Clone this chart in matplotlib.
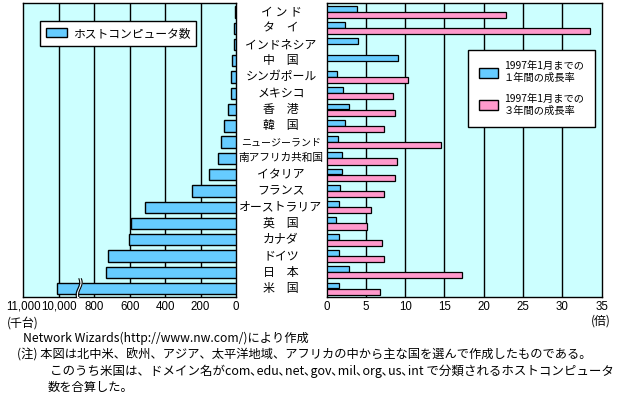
import matplotlib
matplotlib.use("Agg")
import matplotlib.pyplot as plt
import matplotlib.transforms as mtrans
from matplotlib.patches import Patch
import numpy as np

plt.rcParams['font.family'] = ['Noto Sans CJK JP', 'DejaVu Sans']

countries = ["イ ン ド", "タ　イ", "インドネシア", "中　国", "シンガポール", "メキシコ",
             "香　港", "韓　国", "ニュージーランド", "南アフリカ共和国", "イタリア",
             "フランス", "オーストラリア", "英　国", "カナダ", "ドイツ", "日　本", "米　国"]
hosts = [4, 9, 10, 21, 31, 31, 47, 66, 84, 99, 150, 246, 514, 592, 603, 722, 734, 10060]  # 千台
growth_1y = [3.9, 2.3, 4.05, 9.1, 1.3, 2.15, 2.8, 2.3, 1.5, 2.0, 2.0, 1.75, 1.65, 1.25, 1.65, 1.65, 2.8, 1.65]
growth_3y = [22.8, 33.5, None, None, 10.4, 8.4, 8.65, 7.35, 14.6, 9.0, 8.75, 7.35, 5.7, 5.2, 7.0, 7.25, 17.2, 6.85]

left_ticks = [11000, 10000, 800, 600, 400, 200, 0]
left_ticklabels = ["11,000", "10,000", "800", "600", "400", "200", "0"]
right_ticks = [0, 5, 10, 15, 20, 25, 30, 35]

BLUE = "#66CCFF"
PINK = "#FF99CC"
BG = "#CCFFFF"

def fwd(v):
    v = np.asarray(v, dtype=float)
    return np.where(v <= 800, v, 1000 + (v - 10000) / 5.0)

BREAK_AT = 885  # display position of the axis break

W, H = 624, 397
fig = plt.figure(figsize=(W / 100, H / 100), dpi=100)

def rect(x0, y0, x1, y1):
    return [x0 / W, 1 - y1 / H, (x1 - x0) / W, (y1 - y0) / H]

axL = fig.add_axes(rect(23.3, 3.3, 236, 296.7))
axR = fig.add_axes(rect(326.5, 3.3, 601.7, 296.7))

n = len(countries)
idx = np.arange(n)

for ax in (axL, axR):
    ax.set_facecolor(BG)
    ax.set_ylim(n - 0.5, -0.53)
    ax.set_yticks([])
    for s in ax.spines.values():
        s.set_color("black")
        s.set_linewidth(1.0)
    ax.tick_params(axis='x', length=0, pad=3)

# left panel
axL.set_xlim(1200, 0)
for t in left_ticks[1:-1]:
    axL.axvline(fwd(t), color="black", lw=1.0, zorder=1)
axL.barh(idx, fwd(hosts), height=0.7, color=BLUE, edgecolor="black", linewidth=1.0, zorder=3)
axL.set_xticks(fwd(left_ticks))
axL.set_xticklabels(left_ticklabels, family="Liberation Sans", fontsize=8.3)

# break mark on the US bar
yy = np.linspace(n - 1 - 0.6, n - 1 + 0.6, 30)
wig = 10 * np.sin((yy - (n - 1)) / 0.6 * np.pi * 0.8)
axL.fill_betweenx(yy, BREAK_AT - 6 + wig, BREAK_AT + 6 + wig, color="white", zorder=4, lw=0)
axL.plot(BREAK_AT - 7 + wig, yy, color="black", lw=0.8, zorder=5)
axL.plot(BREAK_AT + 7 + wig, yy, color="black", lw=0.8, zorder=5)

leg1 = axL.legend(handles=[Patch(facecolor=BLUE, edgecolor="black")], labels=["ホストコンピュータ数"],
                  loc="upper left", bbox_to_anchor=(40 / W, 1 - 21 / H), bbox_transform=fig.transFigure,
                  fancybox=False, edgecolor="black", framealpha=1, fontsize=8.5,
                  handlelength=1.8, handleheight=0.8, borderpad=0.5, borderaxespad=0, handletextpad=0.5)
leg1.get_frame().set_linewidth(1.0)

# right panel
axR.set_xlim(0, 35)
for t in right_ticks[1:-1]:
    axR.axvline(t, color="black", lw=1.0, zorder=1)
g1 = np.array(growth_1y, dtype=float)
g3 = np.array([np.nan if v is None else v for v in growth_3y], dtype=float)
axR.barh(idx - 0.19, g1, height=0.36, color=BLUE, edgecolor="black", linewidth=0.9, zorder=3)
m = ~np.isnan(g3)
axR.barh(idx[m] + 0.19, g3[m], height=0.38, color=PINK, edgecolor="black", linewidth=0.9, zorder=3)
axR.set_xticks(right_ticks)
axR.set_xticklabels([str(t) for t in right_ticks], family="Liberation Sans", fontsize=8.3)

leg2 = axR.legend(handles=[Patch(facecolor=BLUE, edgecolor="black"), Patch(facecolor=PINK, edgecolor="black")],
                  labels=["1997年1月までの\n１年間の成長率", "1997年1月までの\n３年間の成長率"],
                  loc="upper left", bbox_to_anchor=(468 / W, 1 - 50 / H), bbox_transform=fig.transFigure,
                  fancybox=False, edgecolor="black", framealpha=1, fontsize=7.4,
                  handlelength=1.8, handleheight=1.1, borderpad=1.1, borderaxespad=0,
                  handletextpad=0.6, labelspacing=1.0)
leg2.get_frame().set_linewidth(1.0)

# country labels between panels
tr = mtrans.blended_transform_factory(fig.transFigure, axL.transData)
label_sizes = {"ニュージーランド": 7.2, "南アフリカ共和国": 7.7}
for i, c in enumerate(countries):
    fs = label_sizes.get(c, 8.6)
    fig.text(281 / W, i, c, transform=tr, ha="center", va="center", fontsize=fs)

# units
fig.text(7 / W, 1 - 323 / H, "(千台)", ha="left", va="center", fontsize=8.6)
fig.text(611 / W, 1 - 321 / H, "(倍)", ha="right", va="center", fontsize=8.6)

# notes
NOTE_FS = 8.8
fig.text(23 / W, 1 - 338.5 / H, "Network Wizards(http://www.nw.com/)により作成", ha="left", va="center", fontsize=NOTE_FS)
fig.text(17 / W, 1 - 355 / H, "(注) 本図は北中米、欧州、アジア、太平洋地域、アフリカの中から主な国を選んで作成したものである。",
         ha="left", va="center", fontsize=NOTE_FS)
fig.text(50 / W, 1 - 371 / H, "このうち米国は、ドメイン名がcom､edu､net､gov､mil､org､us､int で分類されるホストコンピュータ",
         ha="left", va="center", fontsize=9.0)
fig.text(48 / W, 1 - 387 / H, "数を合算した。", ha="left", va="center", fontsize=NOTE_FS)

fig.savefig("out.png", dpi=100)
